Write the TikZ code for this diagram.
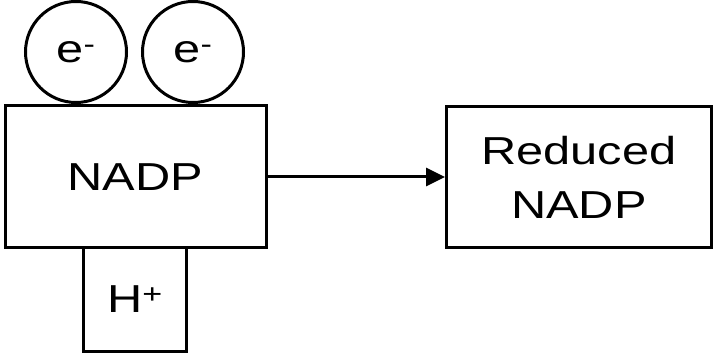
\documentclass[tikz,border=0pt]{standalone}
\usepackage{graphicx}
\usepackage{fontspec}
\setmainfont{Liberation Sans}
\usetikzlibrary{arrows.meta, positioning}
\newcommand{\widetext}[1]{\scalebox{1.25}[1]{#1}}

\begin{document}
\begin{tikzpicture}[x=1pt, y=-1pt,
    box/.style={draw, line width=3pt, inner sep=0pt, align=center,
                font=\fontsize{39}{54}\selectfont},
    electron/.style={draw, circle, line width=3pt, inner sep=0pt,
                minimum size=101pt, font=\fontsize{39}{54}\selectfont}]
  \useasboundingbox (0,0) rectangle (720,355);
  % molecule on the left
  \node[box, minimum width=261pt, minimum height=142pt] (nadp) at (135.5,177) {\widetext{NADP}};
  \node[electron] (eone) at (76,52) {\widetext{e\textsuperscript{-}}};
  \node[electron] (etwo) at (193,52) {\widetext{e\textsuperscript{-}}};
  \node[box, minimum width=103pt, minimum height=104pt] (proton) at (135,299.5) {\widetext{H\textsuperscript{+}}};
  % product
  \node[box, minimum width=265pt, minimum height=141pt] (reduced) at (579,177)
    {\widetext{Reduced}\\\widetext{NADP}};
  \draw[line width=3pt, -{Triangle[length=19pt, width=18pt]}] (nadp.east) -- (reduced.west);
\end{tikzpicture}
\end{document}
